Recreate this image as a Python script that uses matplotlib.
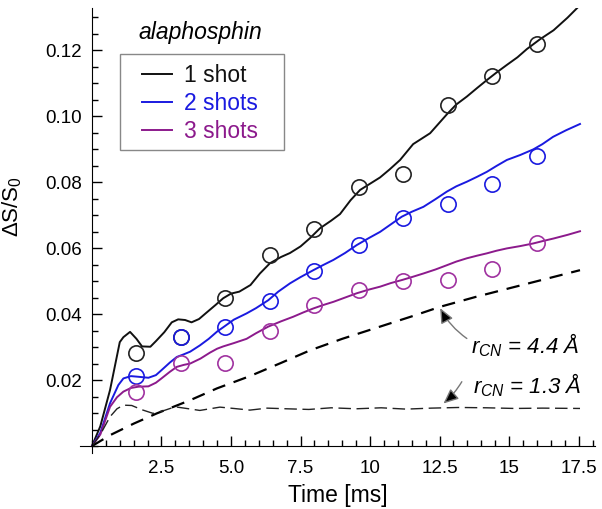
import matplotlib
matplotlib.use('Agg')
import matplotlib.pyplot as plt
import numpy as np
from matplotlib.patches import Rectangle
from matplotlib.ticker import MultipleLocator, FixedLocator, FixedFormatter

plt.rcParams['font.family'] = ['Liberation Sans', 'DejaVu Sans']
plt.rcParams['mathtext.fontset'] = 'custom'
plt.rcParams['mathtext.rm'] = 'Liberation Sans'
plt.rcParams['mathtext.it'] = 'Liberation Sans:italic'

# measured points (circles)
t_pts = [1.6, 3.2, 4.8, 6.4, 8.0, 9.6, 11.2, 12.8, 14.4, 16.0]
pts_1shot = [0.0282, 0.0330, 0.0448, 0.0579, 0.0658, 0.0785, 0.0825, 0.1033, 0.1120, 0.1218]
pts_2shots = [0.0212, 0.0330, 0.0360, 0.0440, 0.0530, 0.0610, 0.0690, 0.0733, 0.0794, 0.0879]
pts_3shots = [0.0164, 0.0251, 0.0252, 0.0348, 0.0427, 0.0473, 0.0500, 0.0503, 0.0536, 0.0615]

# simulated curves
t_1shot = [0, 0.3, 0.65, 1.0, 1.13, 1.37, 1.6, 1.8, 2.1, 2.3, 2.6, 2.87, 3.1, 3.35, 3.58,
           3.85, 4.1, 4.45, 4.72, 5.0, 5.3, 5.7, 6.04, 6.4, 6.8, 7.12, 7.5, 7.84, 8.2, 8.6,
           8.92, 9.3, 9.64, 10.0, 10.36, 10.7, 11.08, 11.55, 12.16, 12.76, 13.1, 13.48,
           13.85, 14.2, 14.55, 14.92, 15.3, 15.64, 16.1, 16.6, 17.1, 17.55]
v_1shot = [0, 0.006, 0.017, 0.0315, 0.033, 0.0346, 0.0325, 0.0302, 0.0301, 0.0318, 0.0345,
           0.0375, 0.0384, 0.0382, 0.0375, 0.0385, 0.0403, 0.0428, 0.0448, 0.0462, 0.0468,
           0.0488, 0.0523, 0.0554, 0.0573, 0.0585, 0.0605, 0.063, 0.066, 0.0683, 0.0703,
           0.0745, 0.0776, 0.0795, 0.0814, 0.0838, 0.0867, 0.0915, 0.0948, 0.1005, 0.1035,
           0.1059, 0.1085, 0.1109, 0.1132, 0.1155, 0.1178, 0.1203, 0.1232, 0.126, 0.1298, 0.1336]

t_2shots = [0, 0.3, 0.65, 0.95, 1.13, 1.4, 1.67, 2.03, 2.3, 2.5, 2.8, 3.05, 3.3, 3.53, 3.88,
            4.2, 4.5, 4.72, 5.1, 5.56, 5.9, 6.34, 6.7, 7.12, 7.5, 7.96, 8.3, 8.68, 9.1, 9.52,
            9.95, 10.36, 10.75, 11.14, 11.5, 11.92, 12.35, 12.76, 13.1, 13.48, 13.85, 14.2,
            14.55, 14.92, 15.4, 15.87, 16.2, 16.58, 17.05, 17.55]
v_2shots = [0, 0.004, 0.013, 0.0185, 0.0205, 0.0212, 0.021, 0.0207, 0.0215, 0.023, 0.0253,
            0.027, 0.0278, 0.0286, 0.0305, 0.0325, 0.0347, 0.036, 0.0383, 0.0402, 0.0418,
            0.0442, 0.0468, 0.0493, 0.0512, 0.0533, 0.0548, 0.0564, 0.0585, 0.0609, 0.063,
            0.0649, 0.0672, 0.0695, 0.071, 0.0725, 0.0748, 0.0771, 0.0787, 0.0801, 0.0816,
            0.0831, 0.0849, 0.0867, 0.0882, 0.0899, 0.0915, 0.0937, 0.0957, 0.0976]

t_3shots = [0, 0.3, 0.65, 0.9, 1.13, 1.4, 1.67, 2.03, 2.3, 2.5, 2.8, 3.05, 3.3, 3.53, 3.9,
            4.24, 4.5, 4.72, 5.1, 5.56, 5.9, 6.34, 6.8, 7.24, 7.6, 7.96, 8.3, 8.68, 9.1, 9.52,
            9.95, 10.36, 10.75, 11.14, 11.5, 11.92, 12.35, 12.76, 13.1, 13.48, 13.85, 14.2,
            14.55, 14.92, 15.4, 15.87, 16.2, 16.6, 17.1, 17.55]
v_3shots = [0, 0.0035, 0.0119, 0.0148, 0.0165, 0.0176, 0.018, 0.0181, 0.0192, 0.0205, 0.0225,
            0.024, 0.0246, 0.025, 0.0265, 0.0283, 0.0295, 0.0302, 0.0312, 0.0325, 0.0342,
            0.0362, 0.0378, 0.0392, 0.0405, 0.0417, 0.0427, 0.0437, 0.045, 0.0463, 0.0474,
            0.0483, 0.0494, 0.0503, 0.0512, 0.0523, 0.0535, 0.0548, 0.0559, 0.0569, 0.0577,
            0.0584, 0.0592, 0.0599, 0.0606, 0.0614, 0.0621, 0.0629, 0.064, 0.0651]

# dashed model curves
t_r44 = [0, 0.65, 1.5, 2.33, 3.53, 4.5, 5.68, 6.8, 7.84, 9.0, 10.36, 11.5, 12.52, 13.8,
         15.0, 16.3, 17.55]
v_r44 = [0, 0.0033, 0.0068, 0.0099, 0.0139, 0.0175, 0.0212, 0.0252, 0.029, 0.0325, 0.0362,
         0.0393, 0.0422, 0.0452, 0.0478, 0.0506, 0.0533]

t_r13 = [0, 0.3, 0.65, 0.9, 1.13, 1.43, 1.8, 2.2, 2.6, 2.99, 3.4, 3.88, 4.6, 5.1, 5.68, 6.3,
         7.0, 7.8, 8.6, 9.5, 10.4, 11.3, 12.2, 13.2, 14.2, 15.2, 16.2, 17.55]
v_r13 = [0, 0.0035, 0.0089, 0.0113, 0.0124, 0.0123, 0.011, 0.0099, 0.0108, 0.0119, 0.0114,
         0.0108, 0.0118, 0.0114, 0.0109, 0.0115, 0.0113, 0.0111, 0.0116, 0.0113, 0.0116,
         0.0112, 0.0115, 0.0117, 0.0116, 0.0114, 0.0115, 0.0114]

xtick_vals = [2.5, 5.0, 7.5, 10, 12.5, 15, 17.5]
xtick_labels = ['2.5', '5.0', '7.5', '10', '12.5', '15', '17.5']
ytick_vals = [0.02, 0.04, 0.06, 0.08, 0.10, 0.12]
ytick_labels = ['0.02', '0.04', '0.06', '0.08', '0.10', '0.12']

c_black = '#111111'
c_blue = '#1a1ae0'
c_purple = '#8c1a8c'
c_purple_pt = '#a032a0'

fig = plt.figure(figsize=(6.02, 5.09), dpi=100)
ax = fig.add_axes([0.1329, 0.110, 0.8555, 0.874])

lw = dict(lw=1.4, solid_joinstyle='round')
ax.plot(t_1shot, v_1shot, color=c_black, label='1 shot', **lw)
ax.plot(t_2shots, v_2shots, color=c_blue, label='2 shots', **lw)
ax.plot(t_3shots, v_3shots, color=c_purple, label='3 shots', **lw)

ax.plot(t_r44, v_r44, color='black', lw=1.6, dashes=(6, 4))
ax.plot(t_r13, v_r13, color='#222222', lw=1.0, dashes=(9, 4))

mk = dict(marker='o', ms=11, mfc='none', mew=1.2, ls='none')
ax.plot(t_pts, pts_1shot, mec='#222222', **mk)
ax.plot(t_pts, pts_2shots, mec=c_blue, **mk)
ax.plot(t_pts, pts_3shots, mec=c_purple_pt, **mk)

ax.set_xlim(-0.43, 18.09)
ax.set_ylim(-0.0021, 0.1327)

for s in ['top', 'right']:
    ax.spines[s].set_visible(False)
ax.spines['left'].set_position(('data', 0))
ax.spines['bottom'].set_position(('data', 0))

ax.xaxis.set_major_locator(FixedLocator(xtick_vals))
ax.xaxis.set_major_formatter(FixedFormatter(xtick_labels))
ax.xaxis.set_minor_locator(MultipleLocator(0.5))
ax.yaxis.set_major_locator(FixedLocator(ytick_vals))
ax.yaxis.set_major_formatter(FixedFormatter(ytick_labels))
ax.yaxis.set_minor_locator(MultipleLocator(0.005))
ax.tick_params(which='both', direction='in', width=1)
ax.tick_params(which='major', length=7, labelsize=13.5)
ax.tick_params(which='minor', length=4)
ax.tick_params(axis='x', pad=10)
ax.tick_params(axis='y', pad=7)

ax.set_xlabel('Time [ms]', fontsize=16.5, labelpad=5)
ax.set_ylabel('ΔS/S$_0$', fontsize=16)
ax.yaxis.set_label_coords(-0.108, 0.555)

# legend: frame drawn by hand so the side padding matches
ax.add_patch(Rectangle((0.0777, 0.681), 0.318, 0.2156, transform=ax.transAxes,
                       fill=True, fc='white', ec='#888888', lw=1.0, zorder=4))
leg = ax.legend(loc='upper left', bbox_to_anchor=(0.1204, 0.875), fontsize=16.5,
                frameon=False, handlelength=1.3, labelspacing=0.22,
                borderpad=0, handletextpad=0.55, borderaxespad=0)
leg.set_zorder(5)
for txt, c in zip(leg.get_texts(), [c_black, c_blue, c_purple]):
    txt.set_color(c)

ax.text(0.233, 0.946, 'alaphosphin', transform=ax.transAxes, fontsize=16.5,
        style='italic', ha='center', va='center')

# annotations
arrow = dict(arrowstyle='-|>,head_length=0.5,head_width=0.22', ec='#777777', fc='black',
             lw=1.0, shrinkA=0, shrinkB=0, mutation_scale=18)
ax.text(13.63, 0.0306, '$r_{CN}$ = 4.4 Å', fontsize=16, style='italic', va='center', ha='left')
ax.annotate('', xy=(12.52, 0.0418), xytext=(13.48, 0.0326),
            arrowprops=dict(connectionstyle='arc3,rad=-0.12', **arrow))
ax.text(13.7, 0.0184, '$r_{CN}$ = 1.3 Å', fontsize=16, style='italic', va='center', ha='left')
ax.annotate('', xy=(12.64, 0.0129), xytext=(13.3, 0.0195),
            arrowprops=dict(connectionstyle='arc3,rad=-0.08', **arrow))

plt.savefig('out.png', dpi=100)
